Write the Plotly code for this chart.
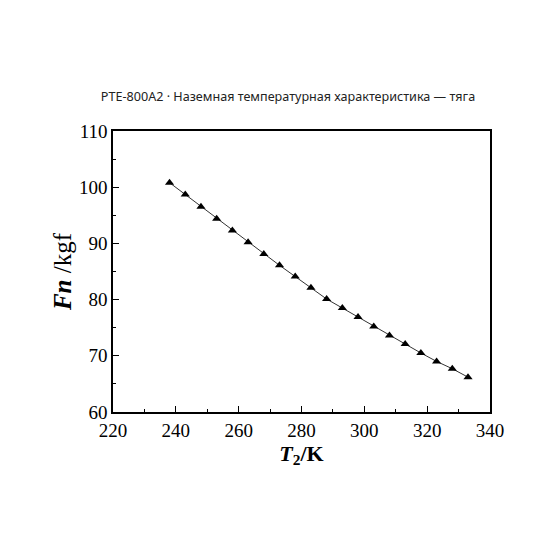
import plotly.graph_objects as go

# T2 (K) and thrust Fn (kgf)
t2 = [238, 243, 248, 253, 258, 263, 268, 273, 278, 283,
      288, 293, 298, 303, 308, 313, 318, 323, 328, 333]
fn = [100.8, 98.7, 96.5, 94.4, 92.3, 90.2, 88.1, 86.1, 84.1, 82.1,
      80.1, 78.5, 76.9, 75.2, 73.6, 72.1, 70.5, 69.0, 67.7, 66.2]

x_ticks = [220, 240, 260, 280, 300, 320, 340]
y_ticks = [60, 70, 80, 90, 100, 110]

serif = "Liberation Serif, Times New Roman, serif"

fig = go.Figure()
fig.add_trace(
    go.Scatter(
        x=t2,
        y=fn,
        mode="lines+markers",
        line=dict(color="#333333", width=1),
        marker=dict(symbol="triangle-up", size=8, color="black"),
        showlegend=False,
        hoverinfo="x+y",
    )
)

axis_common = dict(
    showgrid=False,
    zeroline=False,
    showline=True,
    linecolor="black",
    linewidth=1.5,
    mirror=True,
    ticks="inside",
    ticklen=6,
    tickwidth=1.2,
    tickcolor="black",
    tickfont=dict(family=serif, size=19, color="black"),
)

fig.update_xaxes(
    range=[220, 340],
    tickvals=x_ticks,
    minor=dict(dtick=10, ticks="inside", ticklen=3, tickcolor="black", tickwidth=1),
    title=dict(
        text="<b><i>T</i><sub>2</sub>/K</b>",
        font=dict(family=serif, size=22, color="black"),
        standoff=2,
    ),
    **axis_common,
)
fig.update_yaxes(
    range=[60, 110],
    tickvals=y_ticks,
    minor=dict(dtick=5, ticks="inside", ticklen=3, tickcolor="black", tickwidth=1),
    title=dict(
        text="<b><i>Fn</i></b> /kgf",
        font=dict(family=serif, size=25, color="black"),
        standoff=0,
    ),
    **axis_common,
)
fig.update_layout(
    width=560,
    height=560,
    margin=dict(l=105, r=78, t=123, b=156),
    paper_bgcolor="white",
    plot_bgcolor="white",
    title=dict(
        text="PTE-800A2 · Наземная температурная характеристика — тяга",
        font=dict(family="Noto Sans, Open Sans, sans-serif", size=12.6, color="#222222"),
        x=0.5,
        xanchor="center",
        y=1 - 89 / 560,
        yanchor="middle",
    ),
)

fig.write_html("out.html")
